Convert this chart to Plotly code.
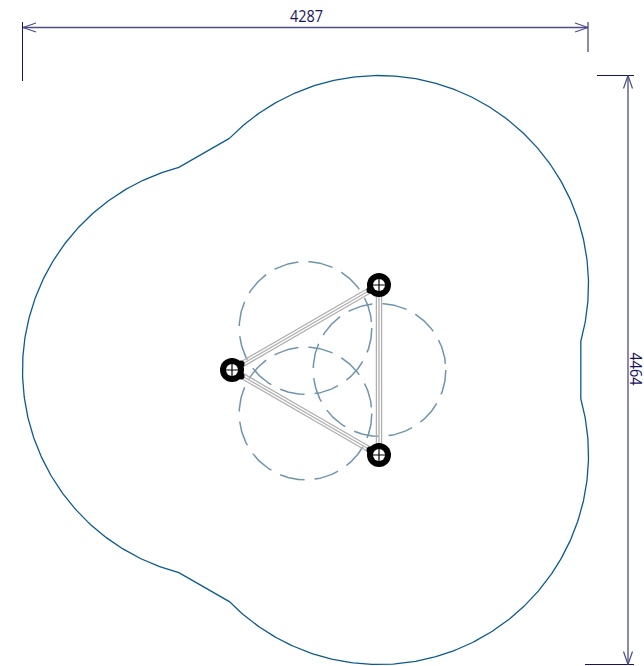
import numpy as np
import plotly.graph_objects as go

W, H = 644, 666

# Outline: lobes as (centre x, centre y, radius, start point, end point), clockwise on screen
posts_x = [379, 232, 379]
posts_y = [285, 370, 455]
lobe_radius = 209.5
lobe_top_ends = [(230, 139), (580, 341)]
lobe_bottom_ends = [(580, 399), (230, 601)]
lobe_left_ends = [(179, 572), (179, 168)]

# Dashed swing circles
swing_x = [305.5, 379.5, 305.5]
swing_y = [328, 370, 413.5]
swing_r = 66.3

# Dimensions
dim_width_label = "4287"
dim_height_label = "4464"
dim_h_y = 27.5
dim_h_x = [23, 588]
dim_v_x = 628
dim_v_y = [75.5, 664.5]

OUTLINE = "#0b5a8c"
SWING = "#6f94ae"
BEAM = "#b0b0b0"
DIM = "#14145f"
DIM_SOFT = "#4c4c88"


def arc(cx, cy, r, p0, p1):
    a0 = np.arctan2(p0[1] - cy, p0[0] - cx)
    a1 = np.arctan2(p1[1] - cy, p1[0] - cx)
    while a1 < a0:
        a1 += 2 * np.pi
    t = np.linspace(a0, a1, 240)
    return cx + r * np.cos(t), cy + r * np.sin(t)


fig = go.Figure()


def line(x, y, color, width=1.0, dash=None):
    fig.add_trace(go.Scatter(x=x, y=y, mode="lines", hoverinfo="skip",
                             line=dict(color=color, width=width, dash=dash)))


# Outer safety outline
xs, ys = [], []
for (cx, cy, ends) in [(posts_x[0], posts_y[0], lobe_top_ends),
                       (posts_x[2], posts_y[2], lobe_bottom_ends),
                       (posts_x[1], posts_y[1], lobe_left_ends)]:
    ax, ay = arc(cx, cy, lobe_radius, ends[0], ends[1])
    xs.extend(ax)
    ys.extend(ay)
xs.append(xs[0])
ys.append(ys[0])
line(xs, ys, OUTLINE, 1.3)

# Dashed circles
for cx, cy in zip(swing_x, swing_y):
    t = np.linspace(0, 2 * np.pi, 360)
    line(cx + swing_r * np.cos(t), cy + swing_r * np.sin(t), SWING, 1.5, "25px,10px")

# Beams: three parallel rails between the posts
for i, j in [(0, 1), (1, 2), (2, 0)]:
    p, q = np.array([posts_x[i], posts_y[i]], float), np.array([posts_x[j], posts_y[j]], float)
    d = (q - p) / np.linalg.norm(q - p)
    n = np.array([-d[1], d[0]])
    for off in (-2.6, 0, 2.6):
        a, b = p + n * off, q + n * off
        line([a[0], b[0]], [a[1], b[1]], BEAM, 1.3)

# Posts
tab_x = [370, 370, 241, 241, 379, 379]
tab_y = [290, 450, 364, 376, 293, 447]
fig.add_trace(go.Scatter(x=tab_x, y=tab_y, mode="markers", hoverinfo="skip",
                         marker=dict(color="#000000", size=7, line=dict(width=0))))
fig.add_trace(go.Scatter(x=posts_x, y=posts_y, mode="markers", hoverinfo="skip",
                         marker=dict(color="#000000", size=24, line=dict(width=0))))
fig.add_trace(go.Scatter(x=posts_x, y=posts_y, mode="markers", hoverinfo="skip",
                         marker=dict(color="#ffffff", size=12, line=dict(width=0))))
fig.add_trace(go.Scatter(x=posts_x, y=posts_y, mode="markers", hoverinfo="skip",
                         marker=dict(symbol="cross-thin", size=12,
                                     line=dict(width=1.2, color="#000000"))))

# Dimension lines
line(dim_h_x, [dim_h_y, dim_h_y], DIM_SOFT, 1.3)
line([dim_v_x, dim_v_x], dim_v_y, DIM_SOFT, 1.3)
# Extension lines
line([22.5, 22.5], [22, 81], DIM, 1.0)
line([588, 588], [22, 52], DIM_SOFT, 1.3)
line([597, 634], [75.5, 75.5], DIM, 1.0)
line([585, 634], [664.5, 664.5], DIM, 1.0)
# Open arrow heads
hl, hw = 13, 4.5
line([dim_h_x[0] + hl, dim_h_x[0], dim_h_x[0] + hl],
     [dim_h_y - hw, dim_h_y, dim_h_y + hw], DIM_SOFT, 1.2)
line([dim_h_x[1] - hl, dim_h_x[1], dim_h_x[1] - hl],
     [dim_h_y - hw, dim_h_y, dim_h_y + hw], DIM_SOFT, 1.2)
line([dim_v_x - hw, dim_v_x, dim_v_x + hw],
     [dim_v_y[0] + hl, dim_v_y[0], dim_v_y[0] + hl], DIM_SOFT, 1.2)
line([dim_v_x - hw, dim_v_x, dim_v_x + hw],
     [dim_v_y[1] - hl, dim_v_y[1], dim_v_y[1] - hl], DIM_SOFT, 1.2)

font = dict(family="Open Sans, sans-serif", size=17, color=DIM)
fig.add_annotation(x=306, y=15, text=dim_width_label, showarrow=False, font=font)
fig.add_annotation(x=636.5, y=369, text=dim_height_label, showarrow=False, font=font, textangle=90)

fig.update_layout(
    width=W, height=H, autosize=False, showlegend=False,
    margin=dict(l=0, r=0, t=0, b=0),
    paper_bgcolor="#ffffff", plot_bgcolor="#ffffff",
    xaxis=dict(range=[0, W], visible=False, fixedrange=True),
    yaxis=dict(range=[H, 0], visible=False, fixedrange=True),
)
# Remove the page margin and narrow the labels to the condensed look of the reference
post = """
document.documentElement.style.margin='0';
document.body.style.margin='0';
document.body.style.overflow='hidden';
document.querySelectorAll('.annotation-text').forEach(function(t){
  t.setAttribute('textLength','33');
  t.setAttribute('lengthAdjust','spacingAndGlyphs');
});
"""
fig.write_html("out.html", config=dict(displayModeBar=False), post_script=post)
